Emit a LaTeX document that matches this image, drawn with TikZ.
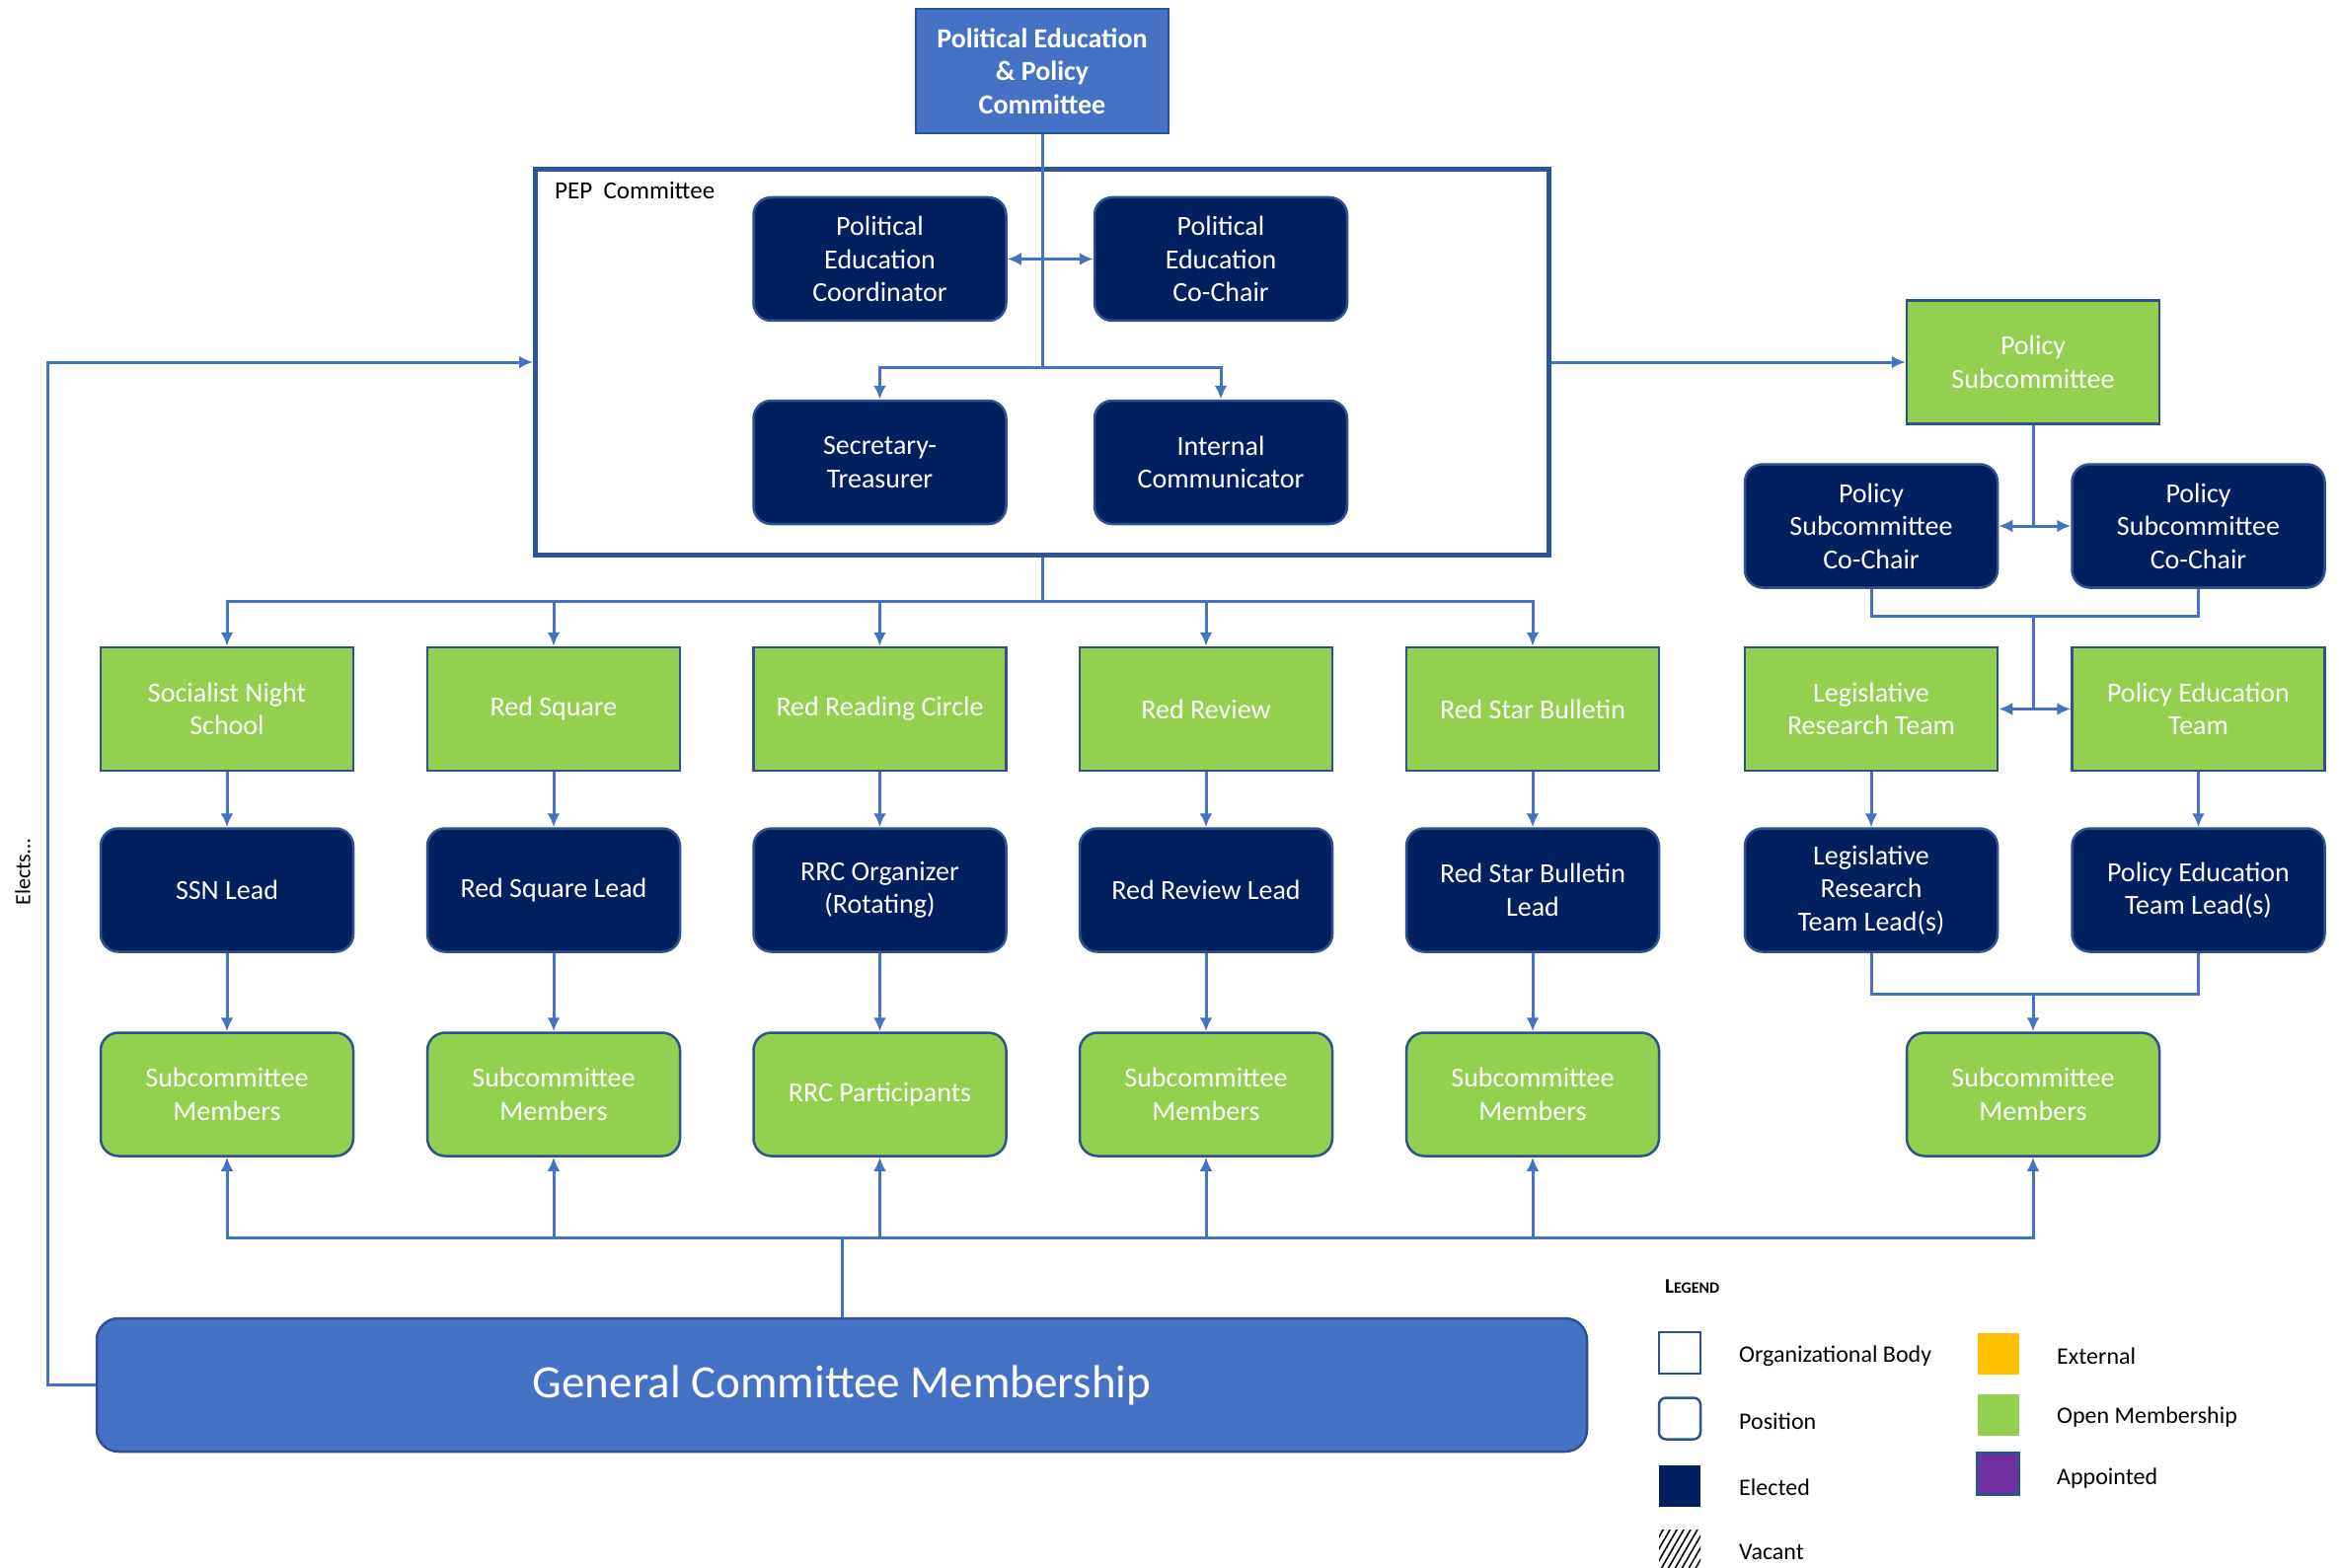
\documentclass[tikz,border=0pt]{standalone}
\usepackage{fontspec}
\setmainfont{Carlito}
\usetikzlibrary{arrows.meta, patterns.meta}

\definecolor{navy}{HTML}{002060}
\definecolor{opengreen}{HTML}{92D050}
\definecolor{bodyblue}{HTML}{4472C4}
\definecolor{edgeblue}{HTML}{2F528F}
\definecolor{frameblue}{HTML}{2F5597}
\definecolor{extyellow}{HTML}{FFC000}
\definecolor{apppurple}{HTML}{7030A0}

\newcommand{\boxfont}{\fontsize{28}{33.5}\selectfont}
\newcommand{\legfont}{\fontsize{24}{28}\selectfont}

\tikzset{
	orgbody/.style={rectangle, draw=edgeblue, line width=2.5pt, fill=opengreen, text=white, align=center, font=\boxfont, minimum width=256pt, minimum height=125pt},
	elected/.style={orgbody, rounded corners=18pt, fill=navy},
	openpos/.style={orgbody, rounded corners=18pt},
	link/.style={draw=bodyblue, line width=3pt, -{Latex[length=14pt, width=13pt]}},
	joint/.style={draw=bodyblue, line width=3pt},
	swatch/.style={rectangle, minimum width=42pt, minimum height=42pt, inner sep=0pt},
	legtext/.style={anchor=west, font=\legfont, inner sep=0pt}
}

\begin{document}
\begin{tikzpicture}[x=1pt, y=-1pt]
	\useasboundingbox (0,0) rectangle (2370,1589);
	
	% committee on top
	\node[orgbody, fill=bodyblue, font=\boxfont\bfseries, minimum height=126pt] (pepc) at (1056,72) {Political Education\\\& Policy\\Committee};
	
	% pep committee frame
	\node[rectangle, draw=frameblue, line width=5pt, minimum width=1027pt, minimum height=390pt] (pep) at (1056,367) {};
	\node[anchor=west, font=\fontsize{25}{30}\selectfont, inner sep=0pt] (peplabel) at (562,193) {PEP\ \ Committee};
	\node[elected] (coord) at (891.5,262.5) {Political\\Education\\Coordinator};
	\node[elected] (cochair) at (1237,262.5) {Political\\Education\\Co-Chair};
	\node[elected] (sectreas) at (891.5,468.5) {Secretary-\\Treasurer};
	\node[elected] (intcomm) at (1237,468.5) {Internal\\Communicator};
	
	\coordinate (split) at (1056,372);
	\draw[joint] (pepc.south) -- (split);
	\draw[link] (split) -| (sectreas.north);
	\draw[link] (split) -| (intcomm.north);
	\draw[link, {Latex[length=14pt, width=13pt]}-{Latex[length=14pt, width=13pt]}] (coord.east) -- (cochair.west);
	
	% subcommittees, leads and members
	\foreach \i/\x/\head/\lead/\memb in {
		1/230/{Socialist Night\\School}/{SSN Lead}/{Subcommittee\\Members},
		2/561/{Red Square}/{Red Square Lead}/{Subcommittee\\Members},
		3/891.5/{Red Reading Circle}/{RRC Organizer\\(Rotating)}/{RRC Participants},
		4/1222/{Red Review}/{Red Review Lead}/{Subcommittee\\Members},
		5/1553/{Red Star Bulletin}/{Red Star Bulletin\\Lead}/{Subcommittee\\Members}}
	{
		\node[orgbody] (sub\i) at (\x,718.5) {\head};
		\node[elected] (lead\i) at (\x,902) {\lead};
		\node[openpos] (memb\i) at (\x,1109) {\memb};
	}
	
	% general membership
	\node[openpos, fill=bodyblue, minimum width=1510pt, minimum height=135pt, rounded corners=22pt, font=\fontsize{47}{56}\selectfont] (gcm) at (853,1403.5) {General Committee Membership};
	
	% policy side
	\node[orgbody] (polsub) at (2060,367) {Policy\\Subcommittee};
	\node[elected] (pcochairl) at (1896,533) {Policy\\Subcommittee\\Co-Chair};
	\node[elected] (pcochairr) at (2227.5,533) {Policy\\Subcommittee\\Co-Chair};
	\node[orgbody] (legres) at (1896,718.5) {Legislative\\Research Team};
	\node[orgbody] (poledu) at (2227.5,718.5) {Policy Education\\Team};
	\node[elected] (legreslead) at (1896,902) {Legislative\\Research\\Team Lead(s)};
	\node[elected] (poledulead) at (2227.5,902) {Policy Education\\Team Lead(s)};
	\node[openpos] (polmemb) at (2060,1109) {Subcommittee\\Members};
	
	% fan out of the frame
	\coordinate (fan) at (1056,609);
	\coordinate (bus) at (853,1254);
	\draw[joint] (pep.south) -- (fan);
	\draw[joint] (gcm.north) -- (bus);
	\foreach \i in {1,...,5}{
		\draw[link] (fan) -| (sub\i.north);
		\draw[link] (sub\i) -- (lead\i);
		\draw[link] (lead\i) -- (memb\i);
		\draw[link] (bus) -| (memb\i.south);
	}
	\draw[link] (bus) -| (polmemb.south);
	
	% elects
	\draw[link] (gcm.west) -- ++(-48,0) |- (pep.west);
	\node[rotate=90, font=\fontsize{22}{26}\selectfont] (elects) at (23,884) {Elects…};
	\draw[link] (pep.east) -- (polsub.west);
	
	% policy connectors
	\coordinate (pjoin) at (2060,533);
	\coordinate (cjoin) at (2060,624);
	\coordinate (tjoin) at (2060,718.5);
	\coordinate (ljoin) at (2060,1007);
	\draw[joint] (polsub.south) -- (pjoin);
	\draw[link, {Latex[length=14pt, width=13pt]}-{Latex[length=14pt, width=13pt]}] (pcochairl.east) -- (pcochairr.west);
	\draw[joint] (pcochairl.south) |- (cjoin) -| (pcochairr.south);
	\draw[joint] (cjoin) -- (tjoin);
	\draw[link, {Latex[length=14pt, width=13pt]}-{Latex[length=14pt, width=13pt]}] (legres.east) -- (poledu.west);
	\draw[link] (legres) -- (legreslead);
	\draw[link] (poledu) -- (poledulead);
	\draw[joint] (legreslead.south) |- (ljoin) -| (poledulead.south);
	\draw[link] (ljoin) -- (polmemb.north);
	
	% legend
	\node[anchor=west, inner sep=0pt, font=\bfseries] (legend) at (1687,1304) {\fontsize{21}{24}\selectfont L\fontsize{16}{20}\selectfont EGEND};
	\node[swatch, draw=edgeblue, line width=2.5pt] (sworg) at (1702,1371) {};
	\node[swatch, draw=edgeblue, line width=2.5pt, rounded corners=7pt] (swpos) at (1702,1437.5) {};
	\node[swatch, fill=navy] (swelec) at (1702,1505.5) {};
	\node[swatch, pattern={Lines[angle=60, distance=6pt, line width=1.6pt]}] (swvac) at (1702,1571) {};
	\node[swatch, fill=extyellow] (swext) at (2024.5,1371.5) {};
	\node[swatch, fill=opengreen] (swopen) at (2024.5,1433.5) {};
	\node[swatch, fill=apppurple, draw=edgeblue, line width=2.5pt] (swapp) at (2024.5,1493.5) {};
	\node[legtext] at (1762,1374) {Organizational Body};
	\node[legtext] at (1762,1440) {Position};
	\node[legtext] at (1762,1507) {Elected};
	\node[legtext] at (1762,1573) {Vacant};
	\node[legtext] at (2084,1374) {External};
	\node[legtext] at (2084,1436) {Open Membership};
	\node[legtext] at (2084,1498) {Appointed};
\end{tikzpicture}
\end{document}
